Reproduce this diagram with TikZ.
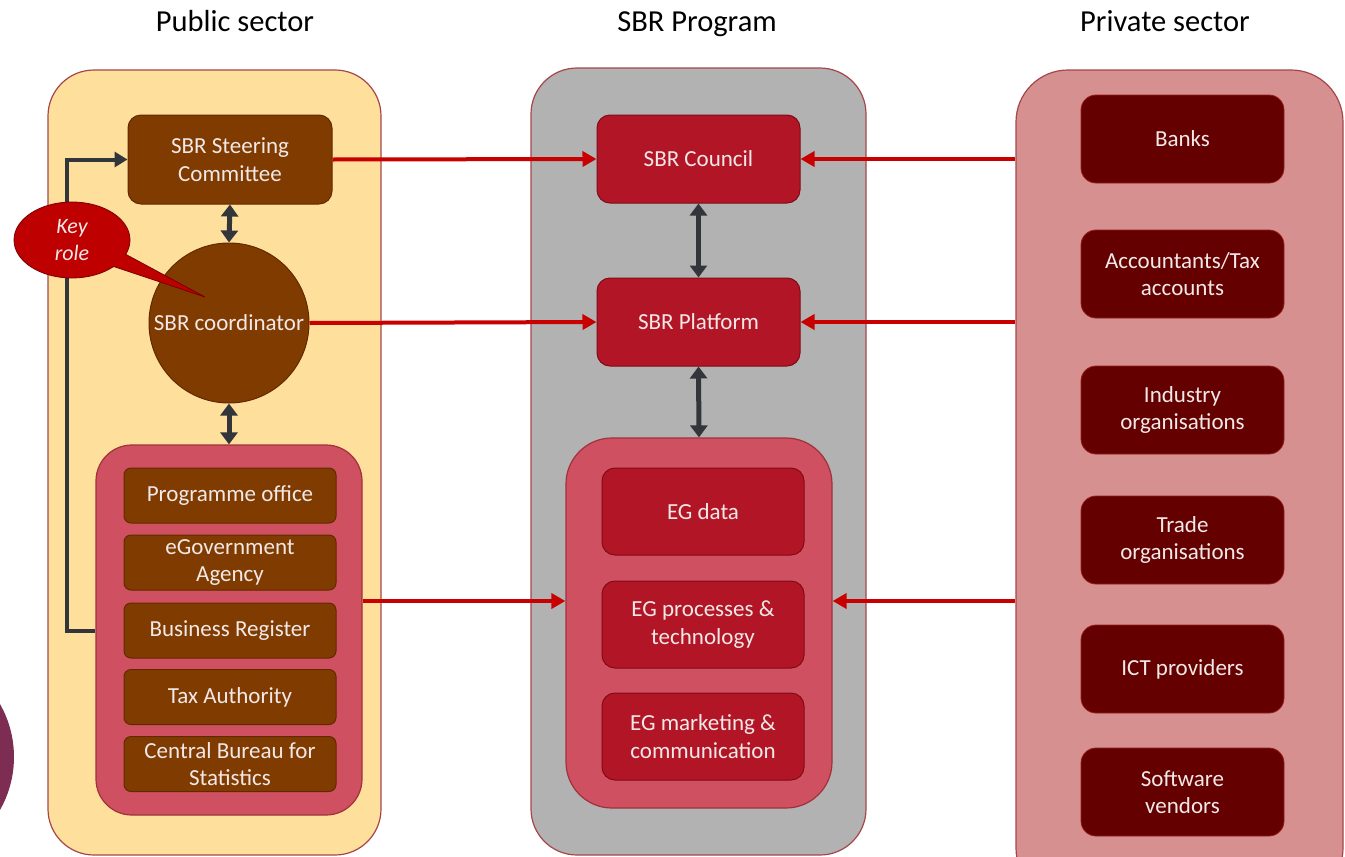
\documentclass[tikz,border=0pt]{standalone}
\usepackage{fontspec}
\setmainfont{Carlito}
\usetikzlibrary{arrows.meta,shapes.callouts,shapes.geometric}

\definecolor{pubfill}{RGB}{254,223,156}
\definecolor{progfill}{RGB}{178,178,178}
\definecolor{privfill}{RGB}{214,144,144}
\definecolor{panelline}{RGB}{165,70,75}
\definecolor{brownbox}{RGB}{128,60,0}
\definecolor{brownline}{RGB}{100,40,0}
\definecolor{redbox}{RGB}{178,22,38}
\definecolor{redline}{RGB}{130,10,20}
\definecolor{groupfill}{RGB}{207,80,96}
\definecolor{groupline}{RGB}{160,50,60}
\definecolor{maroonbox}{RGB}{100,0,0}
\definecolor{maroonline}{RGB}{150,30,30}
\definecolor{arrowred}{RGB}{200,0,0}
\definecolor{arrowdark}{RGB}{50,54,58}
\definecolor{calloutred}{RGB}{190,0,0}
\definecolor{calloutline}{RGB}{120,0,0}
\definecolor{plum}{RGB}{125,45,82}
\definecolor{boxtext}{RGB}{242,232,232}

\tikzset{
  panel/.style={draw=panelline, line width=1.2pt, rounded corners=46pt, inner sep=0pt},
  group/.style={draw=groupline, line width=1.2pt, fill=groupfill, inner sep=0pt},
  boxtxt/.style={text=boxtext, align=center, inner sep=0pt,
    font=\fontsize{23}{27.5}\selectfont},
  pubbox/.style={boxtxt, fill=brownbox, draw=brownline, line width=1pt,
    rounded corners=7pt, minimum width=212pt, minimum height=55pt},
  steerbox/.style={boxtxt, fill=brownbox, draw=brownline, line width=1pt,
    rounded corners=13pt, minimum width=204pt, minimum height=89pt},
  progbox/.style={boxtxt, fill=redbox, draw=redline, line width=1pt,
    rounded corners=13pt, minimum width=203pt, minimum height=88pt},
  privbox/.style={boxtxt, fill=maroonbox, draw=maroonline, line width=0.8pt,
    rounded corners=15pt, minimum width=203pt, minimum height=88pt},
  heading/.style={font=\fontsize{30.5}{36}\selectfont, text=black, anchor=base},
  redlink/.style={draw=arrowred, line width=4pt,
    -{Triangle[length=14pt,width=15pt]}},
  darklink/.style={draw=arrowdark, line width=5pt,
    {Triangle[length=12pt,width=17pt]}-{Triangle[length=12pt,width=17pt]}},
  feedback/.style={draw=arrowdark, line width=4pt,
    -{Triangle[length=13pt,width=15pt]}},
}

\begin{document}
\begin{tikzpicture}[x=1pt,y=-1pt]
\useasboundingbox (0,0) rectangle (1345,857);

% partial plum disc at the left edge
\fill[plum] (-93,757) circle (107);

% column headings
\node[heading] (hpub)  at (235,31)  {Public sector};
\node[heading] (hprog) at (697,31)  {SBR Program};
\node[heading] (hpriv) at (1165,31) {Private sector};

% three column panels
\node[panel, fill=pubfill,  minimum width=333pt, minimum height=785pt] (pub)  at (214.5,462.5) {};
\node[panel, fill=progfill, minimum width=335pt, minimum height=787pt] (prog) at (698.5,461.5) {};
\node[panel, fill=privfill, rounded corners=52pt, minimum width=327pt, minimum height=830pt] (priv) at (1179.5,485) {};

% ---- public sector ----
\node[steerbox] (steer) at (230,159.5) {SBR Steering\\Committee};
\node[circle, fill=brownbox, draw=brownline, line width=1pt, minimum size=160pt,
      boxtxt] (coord) at (229,323) {SBR coordinator};
\node[group, rounded corners=36pt, minimum width=266pt, minimum height=370pt] (lgrp) at (229,630) {};
\node[pubbox] (progoff) at (230,495.5) {Programme office};
\node[pubbox] (egov)    at (230,562.5) {eGovernment\\Agency};
\node[pubbox] (bizreg)  at (230,630.5) {Business Register};
\node[pubbox] (taxauth) at (230,697)   {Tax Authority};
\node[pubbox] (cbs)     at (230,764)   {Central Bureau for\\Statistics};

\draw[darklink] (steer.south) -- (coord.north);
\draw[darklink] (coord.south) -- (lgrp.north);

\coordinate (fbcorner) at (67,630.5);
\draw[feedback] (lgrp.west |- bizreg.center) -- (fbcorner) |- (steer.west);

% ---- SBR program ----
\node[progbox] (council)  at (698.5,159) {SBR Council};
\node[progbox] (platform) at (698.5,322) {SBR Platform};
\node[group, rounded corners=46pt, minimum width=266pt, minimum height=370pt] (mgrp) at (699,623) {};
\node[progbox, minimum width=202pt, minimum height=87pt] (egdata) at (703,511.5) {EG data};
\node[progbox, minimum width=202pt, minimum height=87pt] (egproc) at (703,624.5) {EG processes \&\\technology};
\node[progbox, minimum width=202pt, minimum height=87pt] (egmark) at (703,736.5) {EG marketing \&\\communication};

\draw[darklink] (council.south) -- (platform.north);
\draw[darklink] (platform.south) -- (mgrp.north);

% ---- private sector ----
\node[privbox] (banks)  at (1182.5,139) {Banks};
\node[privbox] (accts)  at (1182.5,274) {Accountants/Tax\\accounts};
\node[privbox] (indorg) at (1182.5,410) {Industry\\organisations};
\node[privbox] (trade)  at (1182.5,540) {Trade\\organisations};
\node[privbox] (ict)    at (1182.5,669) {ICT providers};
\node[privbox] (soft)   at (1182.5,792) {Software\\vendors};

% ---- links into the program ----
\coordinate (grplevel) at (0,601);
\draw[redlink] (steer.east) -- (council.west);
\draw[redlink] (coord.east) -- (platform.west);
\draw[redlink] (lgrp.east |- grplevel) -- (mgrp.west |- grplevel);
\draw[redlink] (priv.west |- council.east) -- (council.east);
\draw[redlink] (priv.west |- platform.east) -- (platform.east);
\draw[redlink] (priv.west |- grplevel) -- (mgrp.east |- grplevel);

% key role callout
\coordinate (keytip) at (205,297);
\node[ellipse callout, callout absolute pointer={(keytip)}, callout pointer arc=22,
      fill=calloutred, draw=calloutline, line width=0.8pt,
      minimum width=116pt, minimum height=76pt, inner sep=0pt,
      text=boxtext, align=center, font=\fontsize{22}{27}\selectfont\itshape]
      (keyrole) at (72,240) {Key\\role};
\end{tikzpicture}
\end{document}
